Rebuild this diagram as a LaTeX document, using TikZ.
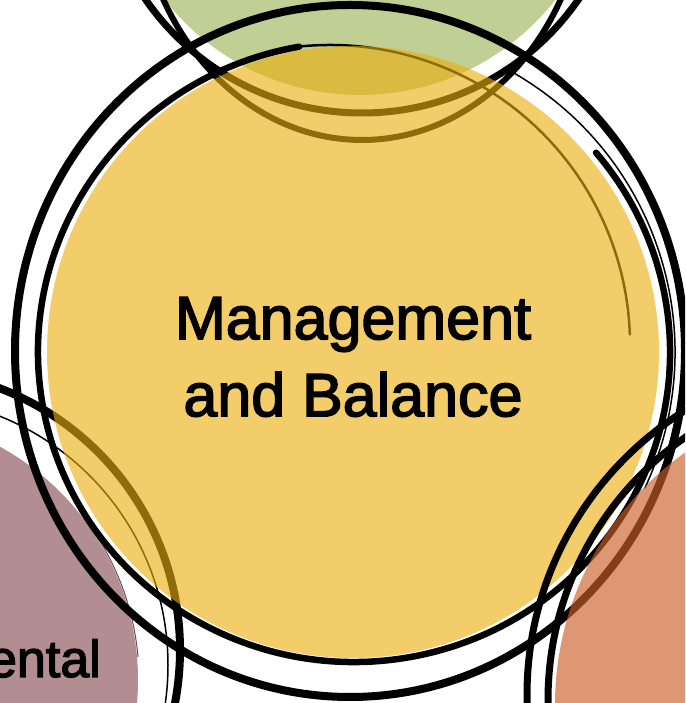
\documentclass[tikz,border=0pt]{standalone}
\usepackage{fontspec}
\setmainfont{Liberation Sans}
\newfontfamily\labelfont{Liberation Sans}[FakeBold=2.5]
\usepackage{tikz}
\definecolor{leafgreen}{RGB}{192,208,148}
\definecolor{mauve}{RGB}{178,142,147}
\definecolor{mauvedark}{RGB}{112,72,82}
\definecolor{mustard}{RGB}{234,174,15}
\definecolor{rust}{RGB}{203,97,40}
\tikzset{
  inkring/.style={draw=black, line width=#1, line cap=round},
  inkring/.default=6pt,
  washfill/.style={fill=#1, fill opacity=0.62},
}

\begin{document}
\begin{tikzpicture}[x=1pt, y=1pt]
  \useasboundingbox (0,0) rectangle (685,703);
  \clip (0,0) rectangle (685,703);
  % flat fills under the ink
  \fill[leafgreen] (360,856) circle[radius=248pt];
  \fill[mauve] (-128,23) circle[radius=266pt];
  % green and mauve rings
  \draw[inkring=7pt] (362,853) circle[radius=263pt];
  \draw[inkring=6pt] (362,828) ellipse[x radius=225pt, y radius=265pt];
  \draw[inkring=8pt] (-100,53) circle[radius=280pt];
  \draw[inkring=1.5pt] (-100,38) circle[radius=268pt];
  \draw[inkring=1pt, mauvedark] (-128,23) ++(32:267pt) arc[start angle=32, end angle=5, radius=267pt];
  % yellow rings
  \draw[inkring=8pt] (350,352) ellipse[x radius=335pt, y radius=346pt];
  \draw[inkring=6.5pt] (354,351) ++(100:316pt and 310pt) arc[start angle=100, end angle=400, x radius=316pt, y radius=310pt];
  \draw[inkring=2.5pt] (330,358) ++(100:300pt) arc[start angle=100, end angle=2, radius=300pt];
  \draw[inkring=1.5pt] (353,351) ++(62:322pt) arc[start angle=62, end angle=-25, radius=322pt];
  % yellow wash on top
  \fill[washfill=mustard] (353,351) circle[radius=306pt];
  % rust rings and wash
  \draw[inkring=7pt] (862,8) circle[radius=335pt];
  \draw[inkring=7pt] (868,3) circle[radius=320pt];
  \fill[rust, fill opacity=0.65] (865,-2) circle[radius=310pt];
  \node[font=\labelfont\fontsize{61}{77}\selectfont, align=center, inner sep=0pt] (mgmt) at (353,346) {Management\\and Balance};
  \node[font=\labelfont\fontsize{52}{60}\selectfont, anchor=base east, inner sep=0pt] (ental) at (101,26) {ental};
\end{tikzpicture}
\end{document}
